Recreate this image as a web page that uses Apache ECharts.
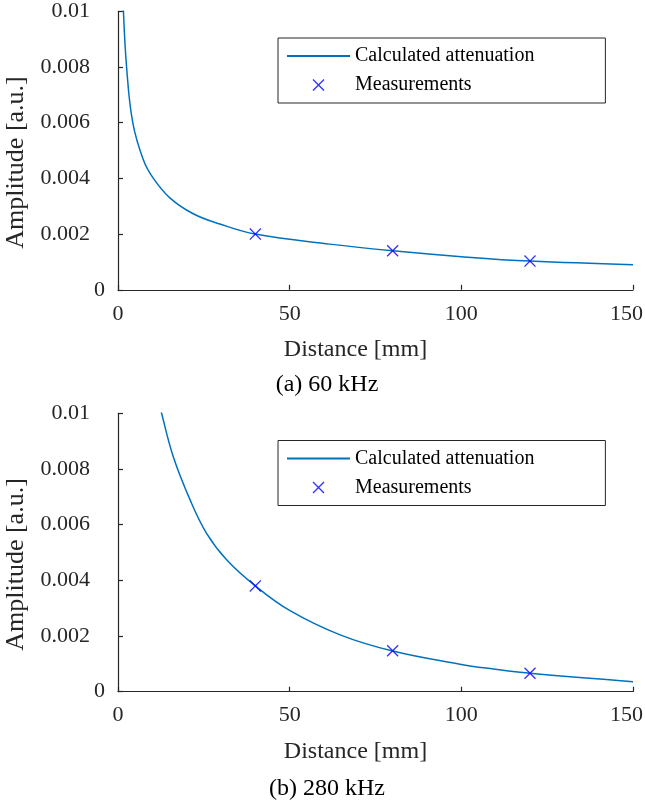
<!DOCTYPE html>
<html>
<head>
<meta charset="utf-8">
<script src="https://cdn.jsdelivr.net/npm/echarts@6/dist/echarts.min.js"></script>
<style>html,body{margin:0;padding:0;background:#fff;}#c{width:645px;height:805px;}</style>
</head>
<body>
<div id="c"></div>
<script>
// (a) 60 kHz
const calcDistA = [1.3, 1.55, 2.5, 4.3, 7.4, 10.3, 15.1, 21.9, 29.7, 40, 61.7, 80, 100, 120, 150];
const calcAmpA  = [0.0115, 0.0101, 0.008, 0.006, 0.00466, 0.004, 0.0033, 0.00273, 0.00236, 0.002, 0.00164, 0.0014, 0.00119, 0.00103, 0.0009];
const measDistA = [40, 80, 120];
const measAmpA  = [0.002, 0.0014, 0.00103];
// (b) 280 kHz
const calcDistB = [12, 12.7, 16.1, 21, 25.8, 31.7, 40, 50.1, 64.7, 80, 99.6, 108.4, 120, 150];
const calcAmpB  = [0.0104, 0.01, 0.00844, 0.00689, 0.00569, 0.00473, 0.0038, 0.00291, 0.00204, 0.00146, 0.00099, 0.00083, 0.00066, 0.00036];
const measDistB = [40, 80, 120];
const measAmpB  = [0.0038, 0.00147, 0.00066];

const xTicks = [0, 50, 100, 150];
const yTicks = [0, 0.002, 0.004, 0.006, 0.008, 0.01];
const captions = ['(a) 60 kHz', '(b) 280 kHz'];
const seriesNames = ['Calculated attenuation', 'Measurements'];
const xTitle = 'Distance [mm]';
const yTitle = 'Amplitude [a.u.]';

const FONT = 'Liberation Serif';
const AX = '#262626';
const LINE = '#0072BD';
const MARK = '#0000FF';
const CROSS = 'path://M0,0.8 L0.8,0 L5,4.2 L9.2,0 L10,0.8 L5.8,5 L10,9.2 L9.2,10 L5,5.8 L0.8,10 L0,9.2 L4.2,5 Z';
const TICK_FS = 22, XTITLE_FS = 24, YTITLE_FS = 26, CAPTION_FS = 24, LEGEND_FS = 20;

const pairs = (xs, ys) => xs.map((x, i) => [x, ys[i]]);

function xAxisCfg(g) {
  const last = xTicks[xTicks.length - 1];
  return {
    type: 'value', gridIndex: g, min: xTicks[0], max: last, interval: 50,
    axisLine: { show: true, onZero: false, lineStyle: { color: AX, width: 1.2 } },
    axisTick: { show: true, inside: true, length: 5, lineStyle: { color: AX, width: 1.2 } },
    axisLabel: { fontFamily: FONT, fontSize: TICK_FS, color: AX, margin: 13,
      formatter: v => (v === last ? '{e|' + v + '}' : '{n|' + v + '}'),
      rich: {
        n: { fontFamily: FONT, fontSize: TICK_FS, color: AX },
        e: { fontFamily: FONT, fontSize: TICK_FS, color: AX, padding: [0, 13, 0, 0] }
      }
    },
    splitLine: { show: false },
    name: xTitle, nameLocation: 'middle', nameGap: 48,
    nameTextStyle: { fontFamily: FONT, fontSize: XTITLE_FS, color: AX, padding: [0, 40, 0, 0] }
  };
}
function yAxisCfg(g) {
  return {
    type: 'value', gridIndex: g, min: yTicks[0], max: yTicks[yTicks.length - 1], interval: 0.002,
    axisLine: { show: true, onZero: false, lineStyle: { color: AX, width: 1.2 } },
    axisTick: { show: true, inside: true, length: 5, lineStyle: { color: AX, width: 1.2 } },
    axisLabel: { fontFamily: FONT, fontSize: TICK_FS, color: AX, margin: 13,
      formatter: v => (v === 0 ? '{z|0}' : '{n|' + (+v.toFixed(3)) + '}'),
      rich: {
        z: { fontFamily: FONT, fontSize: TICK_FS, color: AX },
        n: { fontFamily: FONT, fontSize: TICK_FS, color: AX, padding: [0, 15, 0, 0] }
      }
    },
    splitLine: { show: false },
    name: yTitle, nameLocation: 'middle', nameGap: 85, nameRotate: 90,
    nameTextStyle: { fontFamily: FONT, fontSize: YTITLE_FS, color: AX, padding: [0, 24, 0, 0] }
  };
}
function legendCfg(top) {
  return {
    left: 278, top: top, orient: 'vertical',
    data: [
      { name: seriesNames[0], itemStyle: { opacity: 0 } },
      { name: seriesNames[1] }
    ],
    itemWidth: 63, itemHeight: 12, itemGap: 9,
    padding: [8, 71, 8, 8],
    borderColor: AX, borderWidth: 1, backgroundColor: '#fff',
    textStyle: { fontFamily: FONT, fontSize: LEGEND_FS, color: '#000' },
    selectedMode: false
  };
}
function lineSeries(g, xs, ys) {
  return {
    name: seriesNames[0], type: 'line', xAxisIndex: g, yAxisIndex: g,
    data: pairs(xs, ys), smooth: 0.4, symbol: 'none', clip: true,
    lineStyle: { color: LINE, width: 1.5 }, itemStyle: { color: LINE }, z: 2
  };
}
function measSeries(g, xs, ys) {
  return {
    name: seriesNames[1], type: 'scatter', xAxisIndex: g, yAxisIndex: g,
    data: pairs(xs, ys), symbol: CROSS, symbolSize: 12,
    itemStyle: { color: MARK }, z: 3
  };
}

const chart = echarts.init(document.getElementById('c'), null, { renderer: 'canvas' });
chart.setOption({
  animation: false,
  backgroundColor: '#fff',
  grid: [
    { left: 118, top: 11.3, width: 515, height: 278.5, containLabel: false, outerBoundsMode: 'none' },
    { left: 118, top: 413.3, width: 515, height: 278.4, containLabel: false, outerBoundsMode: 'none' }
  ],
  xAxis: [xAxisCfg(0), xAxisCfg(1)],
  yAxis: [yAxisCfg(0), yAxisCfg(1)],
  legend: [legendCfg(38), legendCfg(440.5)],
  series: [
    lineSeries(0, calcDistA, calcAmpA),
    measSeries(0, measDistA, measAmpA),
    lineSeries(1, calcDistB, calcAmpB),
    measSeries(1, measDistB, measAmpB)
  ],
  graphic: [
    { type: 'text', x: 327, y: 385, style: { text: captions[0], font: CAPTION_FS + 'px "Liberation Serif"', fill: '#000', align: 'center', verticalAlign: 'middle' } },
    { type: 'text', x: 327, y: 789, style: { text: captions[1], font: CAPTION_FS + 'px "Liberation Serif"', fill: '#000', align: 'center', verticalAlign: 'middle' } }
  ]
});
</script>
</body>
</html>
